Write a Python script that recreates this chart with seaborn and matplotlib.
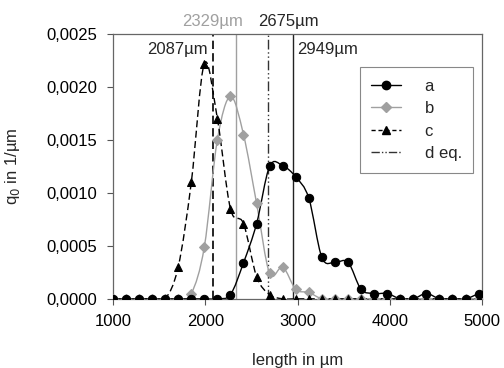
import numpy as np
import pandas as pd
import matplotlib
matplotlib.use("Agg")
import matplotlib.pyplot as plt
import seaborn as sns
from matplotlib.path import Path
from matplotlib.patches import PathPatch
from matplotlib.lines import Line2D
from matplotlib.ticker import FuncFormatter, MultipleLocator

# Class midpoints (length in um)
LENGTH = [1000, 1141, 1283, 1424, 1566, 1707, 1849, 1990, 2131, 2273,
          2414, 2556, 2697, 2839, 2980, 3121, 3263, 3404, 3546, 3687,
          3829, 3970, 4111, 4253, 4394, 4536, 4677, 4819, 4960]

# q0 distributions
Q_A = [0, 0, 0, 0, 0, 0, 0, 0, 0, 0.00004,
       0.00034, 0.00071, 0.00125, 0.001255, 0.00115, 0.00095, 0.00039, 0.000345, 0.000345, 0.00009,
       0.00005, 0.00005, 0, 0, 0.00005, 0, 0, 0, 0.00005]
Q_B = [0, 0, 0, 0, 0, 0, 0.00005, 0.00049, 0.0015, 0.00191,
       0.00155, 0.0009, 0.00024, 0.0003, 0.00009, 0.00006, 0, 0, 0, 0,
       0, 0, 0, 0, 0, 0, 0, 0, 0]
Q_C = [0, 0, 0, 0, 0, 0.0003, 0.0011, 0.00222, 0.0017, 0.00085,
       0.00071, 0.00021, 0.00004, 0, 0, 0, 0, 0, 0, 0,
       0, 0, 0, 0, 0, 0, 0, 0, 0]

# Mean lengths (vertical markers)
MEAN_C = 2087
MEAN_B = 2329
MEAN_D = 2675
MEAN_A = 2949

GREY = "#a0a0a0"


def smooth_path(x, y):
    # Excel-style smoothed line: cubic Bezier through every point
    pts = np.column_stack([x, y]).astype(float)
    n = len(pts)
    verts = [pts[0]]
    codes = [Path.MOVETO]
    for i in range(n - 1):
        p0 = pts[i - 1] if i > 0 else pts[i]
        p1 = pts[i]
        p2 = pts[i + 1]
        p3 = pts[i + 2] if i + 2 < n else pts[i + 1]
        verts += [p1 + (p2 - p0) / 6, p2 - (p3 - p1) / 6, p2]
        codes += [Path.CURVE4] * 3
    return Path(verts, codes)


def main():
    sns.set_style("ticks")
    plt.rcParams['font.family'] = ['Liberation Sans', 'DejaVu Sans']
    plt.rcParams['font.size'] = 12

    df = pd.DataFrame({'length': LENGTH, 'a': Q_A, 'b': Q_B, 'c': Q_C})

    fig, ax = plt.subplots(figsize=(5.04, 3.68), dpi=100)
    fig.subplots_adjust(left=0.224, right=0.957, top=0.908, bottom=0.188)

    # vertical mean lines
    ax.axvline(MEAN_C, color='black', lw=1.2, ls=(0, (5, 2.5)), zorder=1)
    ax.axvline(MEAN_B, color=GREY, lw=1.0, zorder=1)
    ax.axvline(MEAN_D, color='#333333', lw=1.0, ls=(0, (7, 2, 1, 2, 1, 2)), zorder=1)
    ax.axvline(MEAN_A, color='#222222', lw=1.0, zorder=1)

    series = [
        ('b', GREY, 'D', 5.0, '-'),
        ('a', 'black', 'o', 6.0, '-'),
        ('c', 'black', '^', 6.0, (0, (5, 2.5))),
    ]
    for name, col, mk, ms, ls in series:
        patch = PathPatch(smooth_path(df['length'], df[name]), fill=False,
                          edgecolor=col, lw=1.0, linestyle=ls, zorder=2)
        ax.add_patch(patch)
        sns.lineplot(data=df, x='length', y=name, ax=ax, color=col, marker=mk,
                     markersize=ms, markeredgecolor=col, linestyle='', zorder=3)

    ax.set_xlim(1000, 5000)
    ax.set_ylim(0, 0.0025)
    ax.xaxis.set_major_locator(MultipleLocator(1000))
    ax.yaxis.set_major_locator(MultipleLocator(0.0005))
    ax.yaxis.set_major_formatter(FuncFormatter(lambda v, p: f"{v:.4f}".replace('.', ',')))
    ax.tick_params(direction='out', length=4, width=0.8, colors='#555555',
                   labelcolor='black', labelsize=12)
    ax.tick_params(axis='x', pad=7)
    ax.tick_params(axis='y', pad=7)
    for s in ax.spines.values():
        s.set_visible(True)
        s.set_color('#666666')
        s.set_linewidth(0.9)

    ax.set_xlabel('length in µm', fontsize=12, labelpad=17)
    ax.set_ylabel('q$_0$ in 1/µm', fontsize=12, labelpad=18)

    # mean labels
    ax.text(MEAN_C - 60, 0.00235, f"{MEAN_C}µm", ha='right', va='center', fontsize=12)
    ax.text(MEAN_A + 50, 0.00235, f"{MEAN_A}µm", ha='left', va='center', fontsize=12)
    ax.text(MEAN_B + 80, 1.02, f"{MEAN_B}µm", ha='right', va='bottom', fontsize=12,
            color=GREY, transform=ax.get_xaxis_transform())
    ax.text(MEAN_D - 100, 1.02, f"{MEAN_D}µm", ha='left', va='bottom', fontsize=12,
            transform=ax.get_xaxis_transform())

    handles = [
        Line2D([], [], color='black', marker='o', ms=6, lw=1.0),
        Line2D([], [], color=GREY, marker='D', ms=5, lw=1.0),
        Line2D([], [], color='black', marker='^', ms=6, lw=1.0, ls=(0, (3, 2))),
        Line2D([], [], color='#333333', lw=1.0, ls=(0, (6, 1.5, 1, 1.5, 1, 1.5))),
    ]
    leg = ax.legend(handles, ['a', 'b', 'c', 'd eq.'], loc='upper right',
                    bbox_to_anchor=(0.976, 0.875), borderaxespad=0, fancybox=False,
                    frameon=True, edgecolor='#888888', framealpha=1, fontsize=12,
                    handlelength=1.8, handletextpad=1.4, labelspacing=0.45,
                    borderpad=0.7)
    leg.get_frame().set_linewidth(0.8)

    plt.savefig("out.png", dpi=100)
    plt.close()


if __name__ == "__main__":
    main()
